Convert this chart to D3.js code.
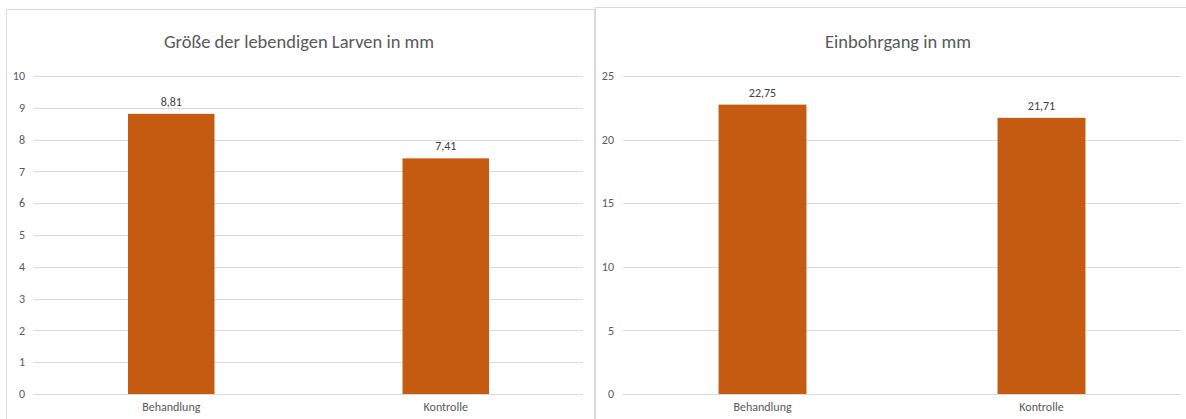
<!DOCTYPE html>
<html>
<head>
<meta charset="utf-8">
<script src="https://cdn.jsdelivr.net/npm/d3@7"></script>
<style>
  body { margin: 0; background: #fff; }
  svg text { font-family: Carlito, "Liberation Sans Narrow", Lato, sans-serif; }
</style>
</head>
<body>
<svg id="chart" width="1186" height="419"></svg>
<script>
// data
var categories = ["Behandlung", "Kontrolle"];
var larvenValues = [8.81, 7.41];
var einbohrValues = [22.75, 21.71];
var larvenTicks = [0, 1, 2, 3, 4, 5, 6, 7, 8, 9, 10];
var einbohrTicks = [0, 5, 10, 15, 20, 25];

var barColor = "#c55a11",
    gridColor = "#d9d9d9",
    textColor = "#595959";

var svg = d3.select("#chart");
var fmt = function(v) { return d3.format(".2f")(v).replace(".", ","); };

function drawPanel(opts) {
  var g = svg.append("g");

  // panel frame
  g.append("rect")
    .attr("x", opts.box[0] + 0.5).attr("y", opts.box[1] + 0.5)
    .attr("width", opts.box[2]).attr("height", opts.box[3])
    .attr("fill", "#fff").attr("stroke", gridColor);

  var x = d3.scaleBand().domain(categories).range([opts.left, opts.right]),
      y = d3.scaleLinear().domain([0, d3.max(opts.ticks)]).range([opts.bottom, opts.top]);

  // gridlines
  g.selectAll("line.grid").data(opts.ticks).enter().append("line")
    .attr("x1", opts.left).attr("x2", opts.right)
    .attr("y1", function(d) { return Math.round(y(d)) + 0.5; })
    .attr("y2", function(d) { return Math.round(y(d)) + 0.5; })
    .attr("stroke", gridColor).attr("stroke-width", 1);

  // y tick labels
  g.selectAll("text.ytick").data(opts.ticks).enter().append("text")
    .attr("x", opts.left - 9)
    .attr("y", function(d) { return y(d); })
    .attr("dy", "0.35em")
    .attr("text-anchor", "end")
    .attr("font-size", 12)
    .attr("fill", textColor)
    .text(function(d) { return d; });

  var bw = x.bandwidth() * 0.315;

  g.selectAll("rect.bar").data(opts.values).enter().append("rect")
    .attr("x", function(d, i) { return x(categories[i]) + x.bandwidth() / 2 - bw / 2; })
    .attr("y", function(d) { return y(d); })
    .attr("width", bw)
    .attr("height", function(d) { return y(0) - y(d); })
    .attr("fill", barColor);

  // value labels
  g.selectAll("text.val").data(opts.values).enter().append("text")
    .attr("x", function(d, i) { return x(categories[i]) + x.bandwidth() / 2; })
    .attr("y", function(d) { return y(d) - 8; })
    .attr("text-anchor", "middle")
    .attr("font-size", 12)
    .attr("fill", "#404040")
    .text(fmt);

  // category labels
  g.selectAll("text.cat").data(categories).enter().append("text")
    .attr("x", function(d) { return x(d) + x.bandwidth() / 2; })
    .attr("y", opts.bottom + 17)
    .attr("text-anchor", "middle")
    .attr("font-size", 12)
    .attr("fill", textColor)
    .text(function(d) { return d; });

  // title
  g.append("text")
    .attr("x", opts.titleX)
    .attr("y", opts.titleY)
    .attr("text-anchor", "middle")
    .attr("font-size", 18.5)
    .attr("fill", textColor)
    .text(opts.title);
}

drawPanel({
  box: [6, 9, 588, 420],
  left: 34, right: 583, top: 76, bottom: 394,
  ticks: larvenTicks, values: larvenValues,
  title: "Größe der lebendigen Larven in mm",
  titleX: 299, titleY: 48
});

drawPanel({
  box: [595, 7, 600, 420],
  left: 623, right: 1181, top: 76, bottom: 394,
  ticks: einbohrTicks, values: einbohrValues,
  title: "Einbohrgang in mm",
  titleX: 898, titleY: 48
});
</script>
</body>
</html>
